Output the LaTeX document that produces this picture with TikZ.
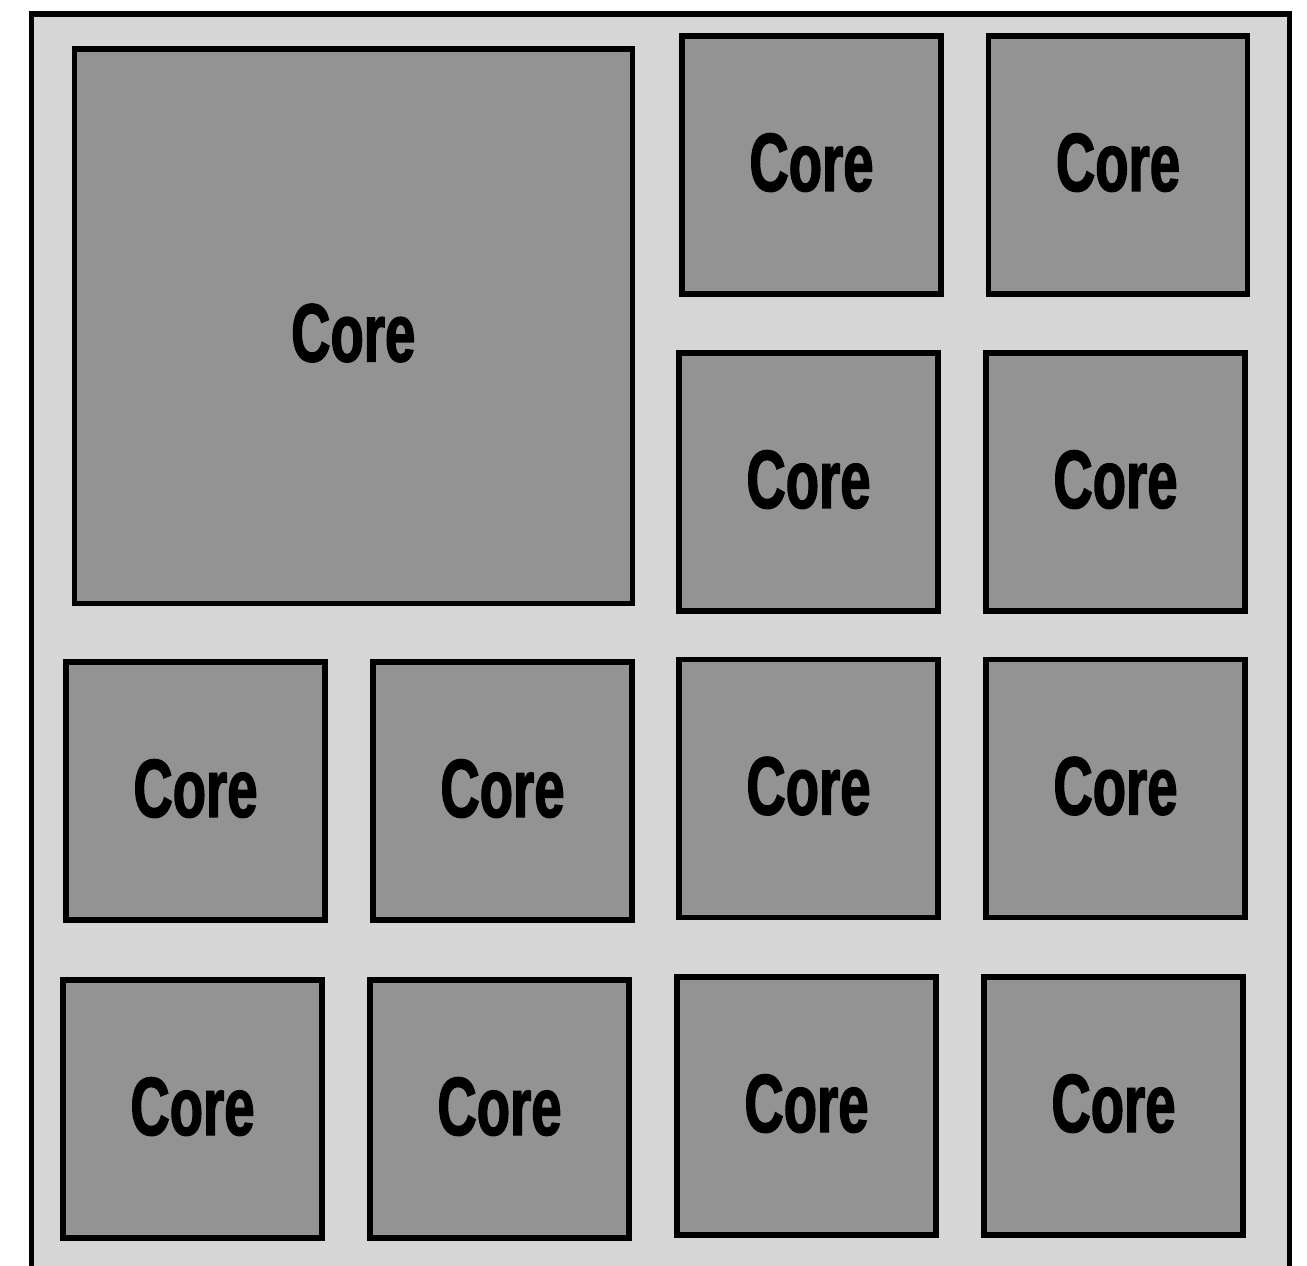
\documentclass[tikz,border=0pt]{standalone}
\usepackage{fontspec}
\newfontfamily\corefont[FakeStretch=0.66, FakeBold=1.6]{Liberation Sans}
\usepackage{tikz}
\definecolor{diegray}{HTML}{D6D6D6}
\definecolor{coregray}{HTML}{939393}
\newcommand{\corelbl}[1][0.06cm]{\raisebox{#1}{Core}}

\begin{document}
\begin{tikzpicture}[
    x=0.02cm, y=-0.02cm,
    core/.style={rectangle, draw=black, line width=2.9pt, fill=coregray,
                 inner sep=0pt, minimum width=5.18cm, minimum height=5.16cm,
                 text height=34pt, text depth=1pt,
                 font=\corefont\bfseries\fontsize{47}{50}\selectfont},
    bigcore/.style={core, minimum width=11.17cm, minimum height=11.1cm}
]
  \useasboundingbox (0,0) rectangle (1307,1266);
  \clip (0,0) rectangle (1307,1266);

  % die
  \node[draw=black, line width=2.9pt, fill=diegray, inner sep=0pt,
        minimum width=25.18cm, minimum height=26cm, anchor=north west]
        (die) at (28.5,11.5) {};

  % one big core
  \node[bigcore] (big) at (353.25,326.5) {\corelbl[-0.12cm]};

  % small cores, right of the big one
  \node[core] (c1) at (811.5,165)  {\corelbl};
  \node[core] (c2) at (1118,165)   {\corelbl};
  \node[core] (c3) at (808.5,482)  {\corelbl};
  \node[core] (c4) at (1115.5,482) {\corelbl};

  % lower rows
  \node[core] (c5)  at (195.5,791)    {\corelbl};
  \node[core] (c6)  at (502.5,791)    {\corelbl};
  \node[core] (c7)  at (808.5,788.5)  {\corelbl};
  \node[core] (c8)  at (1115.5,788.5) {\corelbl};
  \node[core] (c9)  at (192.5,1109)   {\corelbl};
  \node[core] (c10) at (499.5,1109)   {\corelbl};
  \node[core] (c11) at (806.5,1106)   {\corelbl};
  \node[core] (c12) at (1113.5,1106)  {\corelbl};
\end{tikzpicture}
\end{document}
